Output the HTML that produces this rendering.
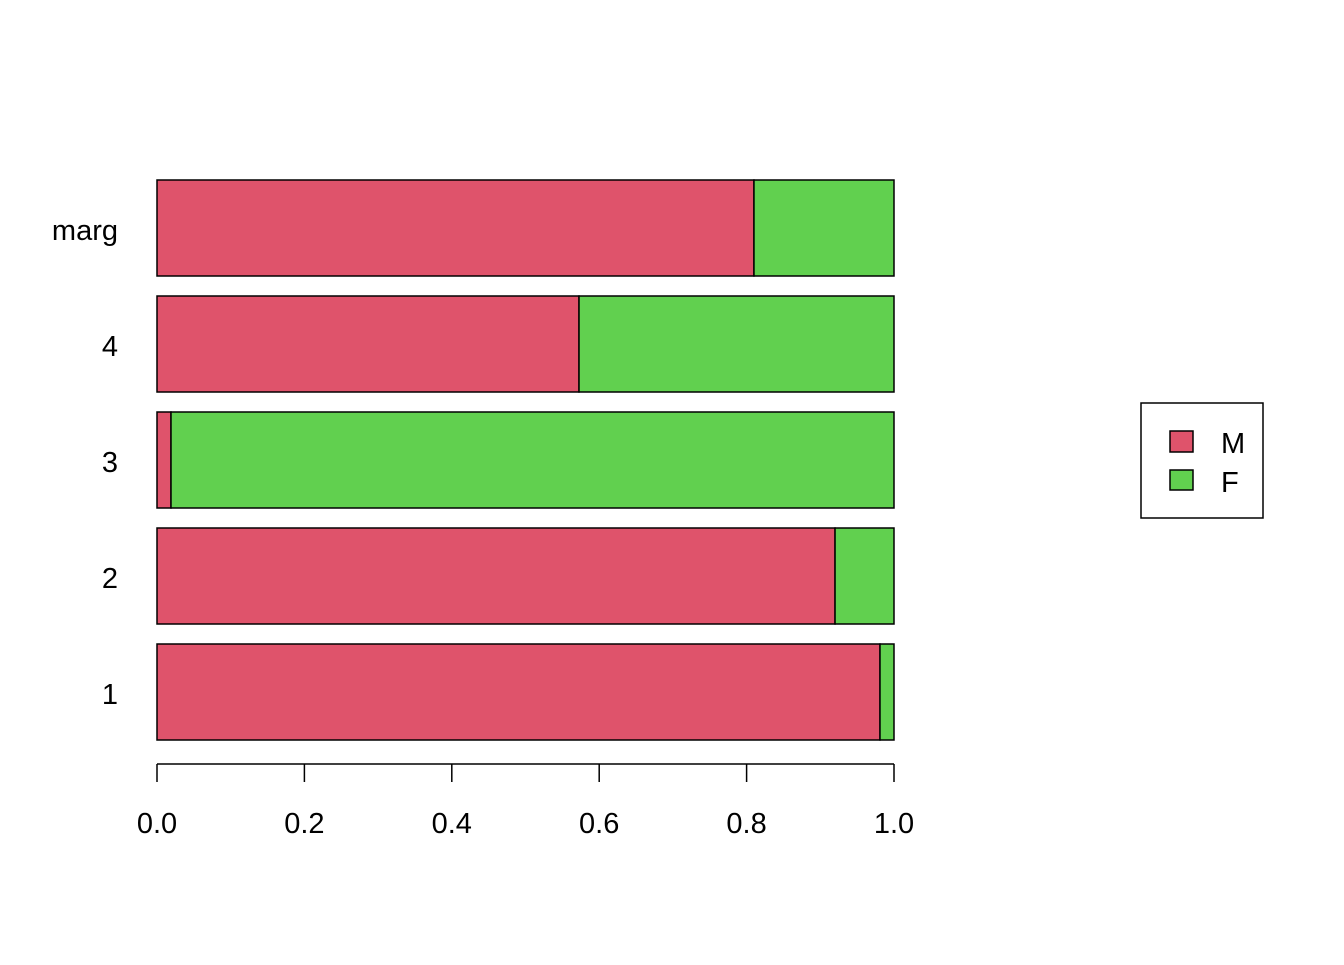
<!DOCTYPE html>
<html><head><meta charset="utf-8"><style>
html,body{margin:0;padding:0;background:#fff;}
svg text{font-family:"Liberation Sans",Arial,sans-serif;}
</style></head><body>
<svg id="chart" width="1344" height="960" viewBox="0 0 1344 960" xmlns="http://www.w3.org/2000/svg">
<g id="bars"></g>
<g id="yaxis"></g>
<g id="xaxis"></g>
<g>
<rect x="1141" y="403" width="122" height="115" fill="#fff" stroke="#000" stroke-width="1.5"/>
<rect x="1170" y="431" width="23" height="21" fill="#DF536B" stroke="#000" stroke-width="1.5"/>
<text x="1221" y="453" font-size="29">M</text>
<rect x="1170" y="470" width="23" height="20" fill="#61D04F" stroke="#000" stroke-width="1.5"/>
<text x="1221" y="492" font-size="29">F</text>
</g>
</svg>
<script>
const categories = ["1","2","3","4","marg"];
const mValues = [0.981, 0.920, 0.019, 0.5726, 0.810];
const fValues = [0.019, 0.080, 0.981, 0.4274, 0.190];
const xTicks = [0, 0.2, 0.4, 0.6, 0.8, 1.0];
const xTickLabels = ["0.0","0.2","0.4","0.6","0.8","1.0"];

const NS = "http://www.w3.org/2000/svg";
const x0 = 157, x1 = 894;
const xScale = v => x0 + v * (x1 - x0);
const barH = 96, step = 116, bottomTop = 644;
const yTop = i => bottomTop - i * step;
function mk(tag, attrs, parent) {
  const e = document.createElementNS(NS, tag);
  for (const k in attrs) e.setAttribute(k, attrs[k]);
  parent.appendChild(e);
  return e;
}
const bars = document.getElementById('bars');
const yaxis = document.getElementById('yaxis');
const xaxis = document.getElementById('xaxis');
categories.forEach((c, i) => {
  const y = yTop(i);
  const m = mk('rect', {x: xScale(0), y: y, width: xScale(mValues[i]) - xScale(0), height: barH, fill: '#DF536B', stroke: '#000', 'stroke-width': 1.5}, bars);
  
  
  const f = mk('rect', {x: xScale(mValues[i]), y: y, width: xScale(mValues[i] + fValues[i]) - xScale(mValues[i]), height: barH, fill: '#61D04F', stroke: '#000', 'stroke-width': 1.5}, bars);
  
  
  const t = mk('text', {x: 118, y: y + barH / 2 + 12, 'font-size': 29, 'text-anchor': 'end'}, yaxis);
  t.textContent = c;
  
  
});
const axl = mk('line', {x1: xScale(0), x2: xScale(1), y1: 764, y2: 764, stroke: '#000', 'stroke-width': 1.5}, xaxis);


xTicks.forEach((v, i) => {
  const tk = mk('line', {x1: xScale(v), x2: xScale(v), y1: 764, y2: 782, stroke: '#000', 'stroke-width': 1.5}, xaxis);
  
  
  const t = mk('text', {x: xScale(v), y: 833, 'font-size': 29, 'text-anchor': 'middle'}, xaxis);
  t.textContent = xTickLabels[i];
  
  
});
</script>
</body></html>
